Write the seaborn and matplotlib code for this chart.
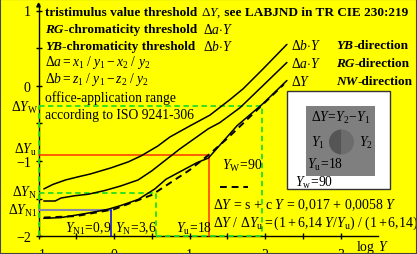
import numpy as np
import pandas as pd
import seaborn as sns
import matplotlib
matplotlib.use("Agg")
import matplotlib.pyplot as plt
from matplotlib.patches import Rectangle, Wedge

sns.set_theme(style="white")
plt.rcParams["font.family"] = ["Liberation Serif", "DejaVu Serif"]
plt.rcParams["mathtext.fontset"] = "custom"
plt.rcParams["mathtext.rm"] = "Liberation Serif"
plt.rcParams["mathtext.it"] = "Liberation Serif:italic"
plt.rcParams["mathtext.bf"] = "Liberation Serif:bold"
plt.rcParams["mathtext.bfit"] = "Liberation Serif:bold:italic"

# ---------------- data ----------------
# Δb·Y  (YB-direction)
db_x = [-0.93, -0.81, -0.64, -0.48, -0.31, -0.04, 0.19, 0.36, 0.58, 0.74, 1.01, 1.27, 1.54, 1.71, 1.97, 2.29]
db_y = [-1.37, -1.31, -1.25, -1.21, -1.17, -1.09, -1.01, -0.93, -0.80, -0.68, -0.53, -0.39, -0.18, -0.04, 0.22, 0.55]
# Δa·Y  (RG-direction)
da_x = [-0.93, -0.78, -0.70, -0.52, -0.34, -0.12, 0.09, 0.32, 0.50, 0.87, 1.25, 1.40, 1.67, 1.97, 2.29]
da_y = [-1.53, -1.53, -1.49, -1.46, -1.44, -1.39, -1.33, -1.25, -1.13, -0.84, -0.57, -0.49, -0.29, 0.00, 0.31]
# ΔY  (NW-direction), measured
dy_x = [-0.93, -0.70, -0.52, -0.34, -0.08, 0.09, 0.32, 0.54, 0.69, 1.10, 1.25, 1.63, 1.97, 2.29]
dy_y = [-1.76, -1.75, -1.72, -1.69, -1.64, -1.59, -1.51, -1.37, -1.24, -1.02, -0.96, -0.53, -0.24, 0.07]
# ΔY = s + c Y  (dashed)
fit_x = [-0.93, -0.50, 0.00, 0.50, 1.00, 1.25, 1.50, 1.75, 2.00, 2.25]
fit_y = [-1.75, -1.73, -1.64, -1.45, -1.12, -0.92, -0.70, -0.46, -0.22, 0.02]

# special luminance levels: log Y and log ΔY
lev_names = ["N1", "N", "u", "W"]
lev_logY = [-0.046, 0.556, 1.255, 1.954]
lev_logdY = [-1.653, -1.421, -0.916, -0.268]

x_ticks = [-1, 0, 1, 2, 3]
y_ticks = [-2, -1, 0, 1]

YELLOW = "#ffff00"
GREEN = "#22dd22"
RED = "#ff3000"
BLUE = "#0000ff"

W, H = 417, 255
fig = plt.figure(figsize=(W / 100, H / 100), dpi=100, facecolor=YELLOW)
ax = fig.add_axes([0, 0, 1, 1])
ax.set_facecolor(YELLOW)

X0, XS = 114.0, 75.5
Y0, YS = 86.8, 75.3
ax.set_xlim((0 - X0) / XS, (W - X0) / XS)
ax.set_ylim((Y0 - H) / YS, Y0 / YS)


def P(px, py):
    return (px - X0) / XS, (Y0 - py) / YS


# axes spines
for s in ["top", "right"]:
    ax.spines[s].set_visible(False)
ax.spines["left"].set_position(("data", -1))
ax.spines["bottom"].set_position(("data", -2))
ax.spines["left"].set_bounds(-2, 1.08)
ax.spines["bottom"].set_bounds(-1, 3.5)
for s in ["left", "bottom"]:
    ax.spines[s].set_color("black")
    ax.spines[s].set_linewidth(1.0)
    ax.spines[s].set_zorder(1)
ax.set_xticks(x_ticks)
ax.set_xticklabels(["\u22121", "0", "1", "2", "3"])
ax.set_yticks(y_ticks)
ax.set_yticklabels(["\u22122", "\u22121", "0", "1"])
ax.set_xticks([-0.5, 0.5, 1.5, 2.5], minor=True)
ax.set_yticks([-1.5, -0.5, 0.5], minor=True)
ax.tick_params(axis="both", which="both", direction="inout", color="black",
               labelsize=10, labelcolor="black", bottom=True, left=True)
ax.tick_params(which="major", length=5, width=1)
ax.tick_params(which="minor", length=4, width=1)
ax.tick_params(axis="x", pad=6)
ax.tick_params(axis="y", pad=3)
ax.grid(False)
ax.annotate("", xy=(-1, 1.15), xytext=(-1, 1.02),
            arrowprops=dict(arrowstyle="-|>", color="black", lw=1, mutation_scale=6))

# reference lines
iN1, iN, iu, iW = 0, 1, 2, 3
dash = (0, (3, 2))
ax.plot([-1, lev_logY[iW], lev_logY[iW]], [lev_logdY[iW], lev_logdY[iW], -2],
        color=GREEN, ls=dash, lw=1.3, zorder=2)
ax.plot([-1, lev_logY[iN], lev_logY[iN]], [lev_logdY[iN], lev_logdY[iN], -2],
        color=GREEN, ls=dash, lw=1.3, zorder=2)
ax.plot([-1, -1], [-2, lev_logdY[iW]], color=GREEN, ls=dash, lw=1.3, zorder=2)
ax.plot([lev_logY[iN], lev_logY[iW]], [-2, -2], color=GREEN, ls=dash, lw=1.3, zorder=2)
ax.plot([-1, lev_logY[iu], lev_logY[iu]], [lev_logdY[iu], lev_logdY[iu], -2],
        color=RED, lw=1.1, zorder=2)
ax.plot([-1, lev_logY[iN1]], [lev_logdY[iN1], lev_logdY[iN1]], color="#8a8aa0", lw=1.5, zorder=2)
ax.plot([lev_logY[iN1], lev_logY[iN1]], [lev_logdY[iN1], -2], color=BLUE, lw=1.1, zorder=2)

# curves
sns.lineplot(x=db_x, y=db_y, ax=ax, color="black", lw=1.1, zorder=3)
sns.lineplot(x=da_x, y=da_y, ax=ax, color="black", lw=1.1, zorder=3)
sns.lineplot(x=dy_x, y=dy_y, ax=ax, color="black", lw=1.1, zorder=3)
sns.lineplot(x=fit_x, y=fit_y, ax=ax, color="black", lw=1.4, zorder=3, linestyle=(0, (3.5, 2.5)))
ax.set_xlabel("")
ax.set_ylabel("")

# texts
fs = 9.8
fb = 9.5
renderer = fig.canvas.get_renderer()


def T(px, py, s, ha="left", size=fs, **kw):
    x, y = P(px, py)
    return ax.text(x, y, s, ha=ha, va="center", fontsize=size, color="black", **kw)


def chain(px, py, pieces, size=fb):
    x = px
    for s, kw in pieces:
        t = T(x, py, s, size=size, **kw)
        x += t.get_window_extent(renderer).width


B = dict(fontweight="bold")
BI = dict(fontweight="bold", fontstyle="italic")

chain(45, 13, [("tristimulus value threshold ", B), (r"$\Delta Y,$", {}), (" see LABJND in TR CIE 230:219", B)])
chain(45, 30, [("RG", BI), ("-chromaticity threshold", B)])
chain(45, 47, [("YB", BI), ("-chromaticity threshold", B)])
T(203, 30, r"$\Delta a{\cdot}Y$")
T(203, 47, r"$\Delta b{\cdot}Y$")
T(45, 63, r"$\Delta a = x_1\ /\ y_1 - x_2\ /\ y_2$")
T(45, 80, r"$\Delta b = z_1\ /\ y_1 - z_2\ /\ y_2$")
T(45, 98, "office-application range")
T(45, 116, "according to ISO 9241-306")

T(291, 46, r"$\Delta b{\cdot}Y$")
chain(336, 46, [("YB", BI), ("-direction", B)])
T(291, 64, r"$\Delta a{\cdot}Y$")
chain(336, 64, [("RG", BI), ("-direction", B)])
T(291, 82, r"$\Delta Y$")
chain(336, 82, [("NW", BI), ("-direction", B)])

T(222, 166, r"$Y_\mathrm{W}\!=\!90$")
T(213, 205, r"$\Delta Y\,=\,\mathrm{s}\,+\,\mathrm{c}\ Y\,=\,0{,}017\,+\,0{,}0058\ Y$", size=10)
T(213, 223, r"$\Delta Y\ /\ \Delta Y_\mathrm{u} = (1 + 6{,}14\ Y/Y_\mathrm{u})\ /\ (1 + 6{,}14)$", size=10)
T(356, 248, r"$\log\ Y$")

T(65, 229, r"$Y_\mathrm{N1}\!=\!0{,}9$")
T(115, 229, r"$Y_\mathrm{N}\!=\!3{,}6$")
T(176, 229, r"$Y_\mathrm{u}\!=\!18$")

T(38, 108, r"$\Delta Y_\mathrm{W}$", ha="right")
T(37, 150, r"$\Delta Y_\mathrm{u}$", ha="right")
T(37, 193, r"$\Delta Y_\mathrm{N}$", ha="right")
T(37, 211, r"$\Delta Y_\mathrm{N1}$", ha="right")

# dashed legend key
lx0, ly = P(220, 188)
lx1, _ = P(248, 188)
ax.plot([lx0, lx1], [ly, ly], color="black", lw=1.4, ls=(0, (3.5, 2.5)))

# inset box
bx0, by0 = P(287, 190)
bx1, by1 = P(390, 92)
ax.add_patch(Rectangle((bx0, by0), bx1 - bx0, by1 - by0, facecolor="white",
                       edgecolor="#333333", lw=1.0, zorder=4))
gx0, gy0 = P(306, 177)
gx1, gy1 = P(375, 107)
ax.add_patch(Rectangle((gx0, gy0), gx1 - gx0, gy1 - gy0, facecolor="#7f7f7f",
                       edgecolor="none", zorder=5))
cx, cy = P(341.5, 143)
r = 12.5 / XS
ax.add_patch(Wedge((cx, cy), r, 90, 270, facecolor="#555555", edgecolor="none", zorder=6))
ax.add_patch(Wedge((cx, cy), r, -90, 90, facecolor="#6c6c6c", edgecolor="none", zorder=6))
for args in [(341, 118, r"$\Delta Y\!=\!Y_2\!-\!Y_1$", "center"),
             (318, 143, r"$Y_1$", "center"),
             (366, 143, r"$Y_2$", "center"),
             (307, 165, r"$Y_\mathrm{u}\!=\!18$", "left"),
             (295, 183, r"$Y_\mathrm{w}\!=\!90$", "left")]:
    x, y = P(args[0], args[1])
    ax.text(x, y, args[2], ha=args[3], va="center", fontsize=fs, color="black", zorder=7)

# figure frame
fig.patches.append(Rectangle((0, 0), 1, 1, transform=fig.transFigure, fill=False,
                             edgecolor="#444444", lw=1.5))

fig.savefig("out.png", dpi=100, facecolor=YELLOW)
